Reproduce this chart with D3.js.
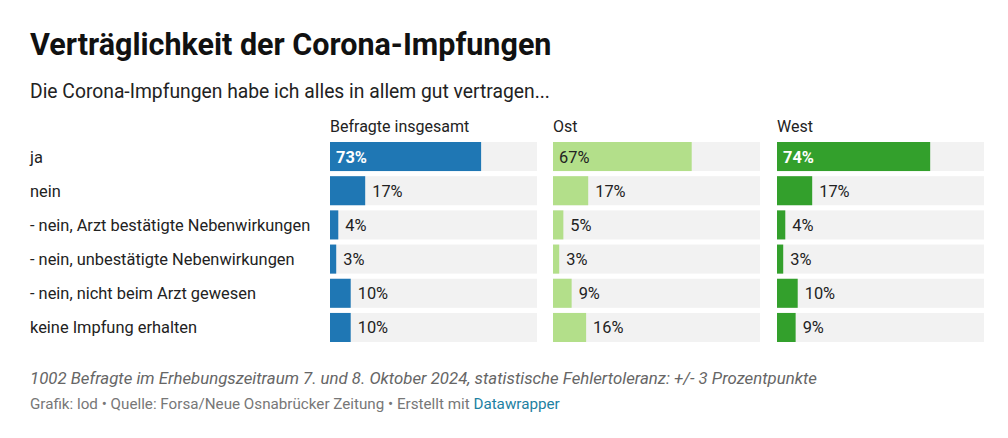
<!DOCTYPE html>
<html><head><meta charset="utf-8">
<script src="https://cdn.jsdelivr.net/npm/d3@7"></script>
<style>body{margin:0;background:#fff;font-family:Roboto,sans-serif}</style>
</head><body>
<script>
const categories = ["ja", "nein", "- nein, Arzt bestätigte Nebenwirkungen", "- nein, unbestätigte Nebenwirkungen", "- nein, nicht beim Arzt gewesen", "keine Impfung erhalten"];
const seriesNames = ["Befragte insgesamt", "Ost", "West"];
const insgesamt = [73, 17, 4, 3, 10, 10];
const ost = [67, 17, 5, 3, 9, 16];
const west = [74, 17, 4, 3, 10, 9];
const seriesValues = [insgesamt, ost, west];
const colors = ["#1f77b4", "#b3df8a", "#33a02c"];
const labelInside = [true, false, true];

const svg = d3.select("body").append("svg").attr("width", 1008).attr("height", 438);

svg.append("text").attr("x", 30).attr("y", 55).attr("font-size", 30.5).attr("font-weight", 700)
  .attr("fill", "#111").text("Verträglichkeit der Corona-Impfungen");
svg.append("text").attr("x", 30).attr("y", 98).attr("font-size", 19.3).attr("fill", "#222")
  .text("Die Corona-Impfungen habe ich alles in allem gut vertragen...");

const y = d3.scaleBand().domain(categories).range([142, 342]).paddingInner(0.15).paddingOuter(0);
const colX = d3.scaleOrdinal().domain(seriesNames).range([330, 553, 777]);
const x = d3.scaleLinear().domain([0, 100]).range([0, 207]);

svg.selectAll(".cat").data(categories).enter().append("text")
  .attr("x", 30).attr("y", d => y(d) + y.bandwidth() / 2 + 6)
  .attr("font-size", 16.4).attr("fill", "#222").text(d => d);

seriesNames.forEach((name, i) => {
  const g = svg.append("g").attr("transform", `translate(${colX(name)},0)`);
  g.append("text").attr("x", 0).attr("y", 132).attr("font-size", 16).attr("fill", "#222").text(name);
  const vals = seriesValues[i];
  g.selectAll(".bg").data(categories).enter().append("rect")
    .attr("x", 0).attr("y", d => y(d)).attr("width", x(100)).attr("height", y.bandwidth()).attr("fill", "#f2f2f2");
  g.selectAll(".bar").data(vals).enter().append("rect")
    .attr("x", 0).attr("y", (d, j) => y(categories[j])).attr("width", d => x(d))
    .attr("height", y.bandwidth()).attr("fill", colors[i]);
  g.selectAll(".val").data(vals).enter().append("text")
    .attr("x", d => d > 50 ? 6 : x(d) + 7)
    .attr("y", (d, j) => y(categories[j]) + y.bandwidth() / 2 + 6)
    .attr("font-size", 16.4)
    .attr("font-weight", d => d > 50 && labelInside[i] ? 700 : 400)
    .attr("fill", d => d > 50 && labelInside[i] ? "#fff" : "#222")
    .text(d => d + "%");
});

svg.append("text").attr("x", 30).attr("y", 384).attr("font-size", 16.8).attr("font-style", "italic")
  .attr("fill", "#666").text("1002 Befragte im Erhebungszeitraum 7. und 8. Oktober 2024, statistische Fehlertoleranz: +/- 3 Prozentpunkte");
const credit = svg.append("text").attr("x", 30).attr("y", 409).attr("font-size", 15.2).attr("fill", "#777");
credit.append("tspan").text("Grafik: lod • Quelle: Forsa/Neue Osnabrücker Zeitung • Erstellt mit ");
credit.append("tspan").attr("fill", "#1d81a2").text("Datawrapper");
</script>
</body></html>
